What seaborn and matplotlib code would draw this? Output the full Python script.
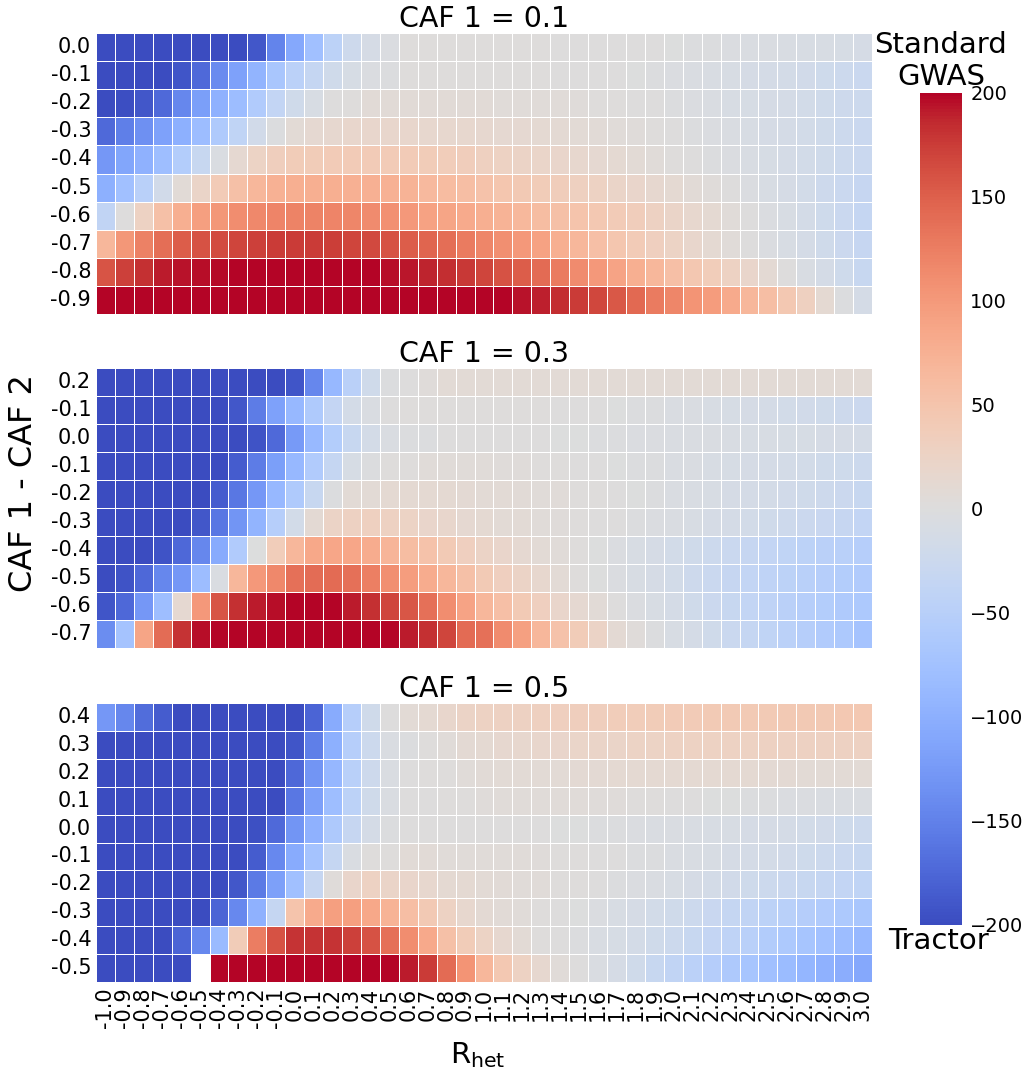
import numpy as np
import pandas as pd
import matplotlib
matplotlib.use("Agg")
import matplotlib.pyplot as plt
import seaborn as sns

# ---------------- data ----------------
r_het_labels = ["-1.0", "-0.9", "-0.8", "-0.7", "-0.6", "-0.5", "-0.4", "-0.3", "-0.2", "-0.1",
                "0.0", "0.1", "0.2", "0.3", "0.4", "0.5", "0.6", "0.7", "0.8", "0.9",
                "1.0", "1.1", "1.2", "1.3", "1.4", "1.5", "1.6", "1.7", "1.8", "1.9",
                "2.0", "2.1", "2.2", "2.3", "2.4", "2.5", "2.6", "2.7", "2.8", "2.9", "3.0"]

caf1_titles = ["CAF 1 = 0.1", "CAF 1 = 0.3", "CAF 1 = 0.5"]

rows_caf01 = ["0.0", "-0.1", "-0.2", "-0.3", "-0.4", "-0.5", "-0.6", "-0.7", "-0.8", "-0.9"]
rows_caf03 = ["0.2", "-0.1", "0.0", "-0.1", "-0.2", "-0.3", "-0.4", "-0.5", "-0.6", "-0.7"]
rows_caf05 = ["0.4", "0.3", "0.2", "0.1", "0.0", "-0.1", "-0.2", "-0.3", "-0.4", "-0.5"]

vals_caf01 = [
    [-200, -200, -200, -200, -200, -200, -200, -200, -190, -148, -108, -78, -45, -22, -12, -4,
     2, 2, 2, 2, 2, 2, 2, 2, 1, 1, 1, 0, 0, 0, -1, -2, -3, -4, -5, -6, -7, -8, -9, -10, -11],
    [-200, -200, -200, -200, -192, -172, -140, -117, -95, -68, -46, -33, -20, -10, -4, -2,
     3, 3, 3, 3, 3, 2, 2, 2, 1, 1, 0, 0, -1, -2, -4, -5, -7, -9, -11, -13, -15, -18, -21, -24, -28],
    [-200, -198, -190, -172, -145, -120, -97, -82, -58, -36, -20, -8, 0, 3,
     7, 7, 7, 7, 7, 7, 7, 6, 6, 5, 5, 4, 3, 2, 1, 0, -2, -4, -6, -8, -10, -12, -14, -16, -19, -22, -25],
    [-172, -152, -135, -116, -100, -82, -60, -40, -18, -2, 8, 13, 15, 18, 18, 18, 18, 17, 16, 16, 15,
     14, 13, 12, 10, 9, 7, 5, 4, 2, 0, -2, -4, -6, -9, -11, -14, -17, -20, -24, -28],
    [-128, -112, -98, -80, -55, -30, -5, 14, 25, 33, 38, 39, 40, 40, 40, 40, 40, 39, 37, 35, 30,
     27, 24, 21, 19, 17, 14, 11, 8, 6, 3, 1, -2, -4, -7, -10, -13, -16, -20, -24, -28],
    [-100, -78, -50, -18, 7, 22, 40, 55, 68, 74, 77, 78, 78, 76, 75, 74, 72, 65, 62, 58, 52,
     47, 43, 39, 35, 31, 27, 23, 19, 15, 11, 7, 4, 0, -4, -8, -12, -17, -22, -27, -32],
    [-38, 0, 27, 55, 78, 95, 103, 112, 116, 120, 121, 121, 120, 118, 113, 108, 100, 92, 88, 82, 78,
     72, 66, 60, 55, 50, 45, 40, 35, 29, 23, 17, 11, 6, 1, -4, -9, -15, -21, -27, -34],
    [68, 102, 122, 138, 152, 160, 165, 170, 173, 175, 176, 176, 174, 170, 166, 160, 153, 146, 138, 128, 118,
     110, 100, 92, 78, 68, 57, 48, 40, 32, 25, 18, 12, 6, 1, -4, -9, -14, -20, -26, -32],
    [158, 173, 182, 192, 194, 196, 198, 200, 202, 205, 206, 206, 205, 200, 199, 196, 193, 188, 183, 177, 170,
     160, 152, 142, 128, 113, 100, 90, 78, 68, 57, 46, 36, 27, 19, 10, 1, -7, -14, -21, -30],
    [215, 215, 215, 215, 215, 215, 215, 215, 215, 215, 215, 215, 215, 215, 215, 215, 215, 215, 215, 215, 215,
     200, 195, 190, 184, 176, 168, 156, 143, 128, 118, 106, 97, 82, 68, 58, 44, 30, 12, -2, -14],
]

vals_caf03 = [
    [-200, -200, -200, -200, -200, -200, -200, -200, -200, -200, -192, -145, -88, -48, -20, -2, 1, 4, 8, 8, 8,
     9, 9, 9, 9, 9, 9, 9, 9, 9, 9, 9, 9, 9, 9, 9, 9, 9, 9, 9, 9],
    [-200, -200, -200, -200, -200, -200, -200, -190, -155, -117, -88, -60, -35, -15, -6, 0, 3, 3, 3, 3, 3,
     3, 3, 2, 1, 0, 0, -1, -2, -3, -5, -6, -8, -10, -12, -14, -16, -18, -20, -23, -26],
    [-200, -200, -200, -200, -200, -200, -200, -200, -193, -172, -125, -87, -55, -30, -15, -6, -2, -2, 1, 1, 1,
     1, 1, 0, -1, -1, -2, -3, -4, -4, -5, -5, -6, -7, -8, -9, -10, -10, -11, -12, -13],
    [-200, -200, -200, -200, -200, -200, -200, -185, -155, -120, -88, -58, -33, -10, -2, 3, 3, 5, 5, 5, 5,
     4, 4, 3, 2, 1, 0, -1, -2, -3, -5, -6, -8, -10, -11, -13, -15, -17, -19, -21, -24],
    [-200, -200, -200, -200, -200, -200, -185, -160, -127, -88, -60, -30, -3, 8, 9, 12, 12, 12, 11, 10, 9,
     8, 7, 6, 5, 3, 2, 0, -1, -3, -5, -7, -9, -11, -13, -15, -18, -20, -23, -26, -30],
    [-200, -200, -200, -200, -200, -190, -160, -130, -95, -52, -16, 10, 24, 29, 30, 29, 25, 20, 18, 14, 11,
     9, 8, 6, 4, 3, 1, 0, -2, -4, -6, -9, -11, -14, -17, -20, -23, -26, -29, -32, -36],
    [-200, -200, -200, -193, -175, -145, -105, -58, -1, 36, 68, 85, 86, 86, 80, 70, 60, 52, 42, 32, 24,
     19, 13, 8, 5, 2, -1, -4, -8, -12, -16, -20, -24, -28, -32, -36, -40, -44, -47, -50, -53],
    [-200, -193, -175, -145, -127, -82, -6, 68, 100, 117, 137, 140, 141, 137, 124, 110, 96, 81, 68, 56, 42,
     32, 24, 16, 8, 3, -1, -4, -8, -12, -17, -22, -27, -32, -37, -41, -45, -49, -52, -55, -58],
    [-192, -175, -128, -80, 13, 100, 158, 182, 192, 196, 200, 202, 200, 191, 182, 170, 157, 137, 112, 90, 68,
     57, 42, 32, 20, 13, 7, 0, -4, -9, -14, -20, -26, -31, -37, -42, -47, -52, -56, -60, -64],
    [-138, -73, 88, 140, 180, 196, 210, 210, 210, 210, 210, 210, 210, 210, 210, 200, 192, 182, 170, 142, 136,
     114, 93, 68, 52, 38, 24, 10, 4, -2, -8, -14, -20, -27, -33, -40, -46, -52, -58, -64, -72],
]

vals_caf05 = [
    [-127, -145, -170, -185, -200, -200, -200, -200, -200, -200, -200, -177, -105, -52, -20, 0, 8, 12, 18, 24, 27,
     29, 29, 30, 32, 33, 34, 36, 37, 38, 40, 40, 41, 41, 42, 42, 43, 43, 43, 44, 44],
    [-200, -200, -200, -200, -200, -200, -200, -200, -200, -200, -192, -152, -100, -52, -25, -6, -2, 3, 6, 10, 12,
     15, 17, 18, 20, 21, 22, 23, 25, 26, 27, 27, 28, 28, 28, 29, 29, 29, 29, 29, 29],
    [-200, -200, -200, -200, -200, -200, -200, -200, -200, -200, -175, -130, -90, -50, -22, -6, 0, 3, 3, 6, 7,
     8, 8, 9, 9, 10, 10, 11, 11, 11, 11, 11, 11, 11, 11, 10, 10, 9, 9, 8, 8],
    [-200, -200, -200, -200, -200, -200, -200, -200, -200, -200, -160, -118, -80, -45, -20, -6, 0, 0, 3, 3, 4,
     5, 5, 5, 5, 5, 4, 4, 3, 2, 1, 0, -1, -1, -2, -3, -4, -4, -5, -5, -6],
    [-200, -200, -200, -200, -200, -200, -200, -200, -196, -173, -130, -97, -62, -32, -13, -2, 0, 0, 0, 0, 0,
     0, 0, 0, -1, -1, -2, -3, -4, -5, -6, -7, -8, -9, -11, -12, -14, -16, -18, -21, -24],
    [-200, -200, -200, -200, -200, -200, -200, -200, -185, -143, -105, -73, -33, -6, 3, 3, 7, 7, 6, 6, 6,
     5, 5, 4, 3, 2, 1, 0, -2, -3, -5, -7, -9, -11, -13, -15, -18, -21, -24, -27, -30],
    [-200, -200, -200, -200, -200, -200, -200, -190, -157, -118, -77, -32, 4, 20, 27, 22, 20, 16, 12, 11, 8,
     7, 6, 5, 3, 2, 0, -2, -4, -6, -9, -12, -15, -18, -21, -24, -27, -30, -33, -36, -40],
    [-200, -200, -200, -200, -200, -200, -177, -143, -97, -33, 50, 82, 95, 95, 85, 72, 58, 43, 27, 16, 10,
     7, 5, 3, 1, -1, -4, -8, -12, -16, -20, -25, -29, -34, -39, -44, -49, -54, -59, -64, -68],
    [-200, -200, -200, -200, -177, -143, -85, 38, 125, 160, 180, 181, 180, 173, 160, 136, 112, 83, 55, 38, 26,
     15, 8, 3, 1, -3, -7, -10, -15, -20, -25, -30, -35, -42, -50, -57, -63, -70, -76, -82, -88],
    [-200, -200, -200, -200, -200, np.nan, 210, 210, 210, 210, 210, 210, 210, 210, 210, 210, 192, 175, 142, 105, 68,
     45, 28, 15, 6, 0, -5, -12, -20, -30, -38, -46, -54, -62, -70, -77, -84, -91, -97, -103, -108],
]

panels = [
    (caf1_titles[0], rows_caf01, vals_caf01),
    (caf1_titles[1], rows_caf03, vals_caf03),
    (caf1_titles[2], rows_caf05, vals_caf05),
]

# ---------------- figure ----------------
W, H = 1033, 1076
fig = plt.figure(figsize=(W / 100, H / 100), dpi=100)
plt.rcParams['font.family'] = ['DejaVu Sans']

def box(x0, y0, x1, y1):
    return [x0 / W, 1 - y1 / H, (x1 - x0) / W, (y1 - y0) / H]

ax_boxes = [box(96, 33, 872, 314), box(96, 368, 872, 648), box(96, 703, 872, 982)]
cax = fig.add_axes(box(920, 93, 962, 925))

axes = []
for i, ((title, rows, vals), b) in enumerate(zip(panels, ax_boxes)):
    ax = fig.add_axes(b)
    df = pd.DataFrame(np.array(vals, dtype=float), index=rows, columns=r_het_labels)
    last = (i == 2)
    sns.heatmap(df, ax=ax, cmap="coolwarm", vmin=-200, vmax=200, center=0,
                linewidths=0.6, linecolor="white",
                cbar=(i == 0), cbar_ax=cax if i == 0 else None,
                xticklabels=r_het_labels if last else False,
                yticklabels=rows)
    ax.set_title(title, fontsize=20.5, pad=3)
    ax.set_xlabel("")
    ax.set_ylabel("")
    ax.tick_params(axis="y", length=0, pad=3.5, labelsize=15, rotation=0)
    if last:
        ax.tick_params(axis="x", length=0, pad=4, labelsize=15, rotation=90)
    axes.append(ax)

# colorbar styling
cax.set_yticks([-200, -150, -100, -50, 0, 50, 100, 150, 200])
cax.tick_params(length=0, pad=6, labelsize=14)

fig.text(941 / W, 1 - 61 / H, "Standard\nGWAS", ha="center", va="center", fontsize=21,
         linespacing=1.2)
fig.text(939 / W, 1 - 941 / H, "Tractor", ha="center", va="center", fontsize=21)

fig.text(24 / W, 1 - 483 / H, "CAF 1 - CAF 2", rotation=90, ha="center", va="center", fontsize=23)
fig.text(478 / W, 1 - 1055 / H, r"$\mathregular{R_{het}}$", ha="center", va="center", fontsize=21)

fig.savefig("out.png", dpi=100, facecolor="white")
